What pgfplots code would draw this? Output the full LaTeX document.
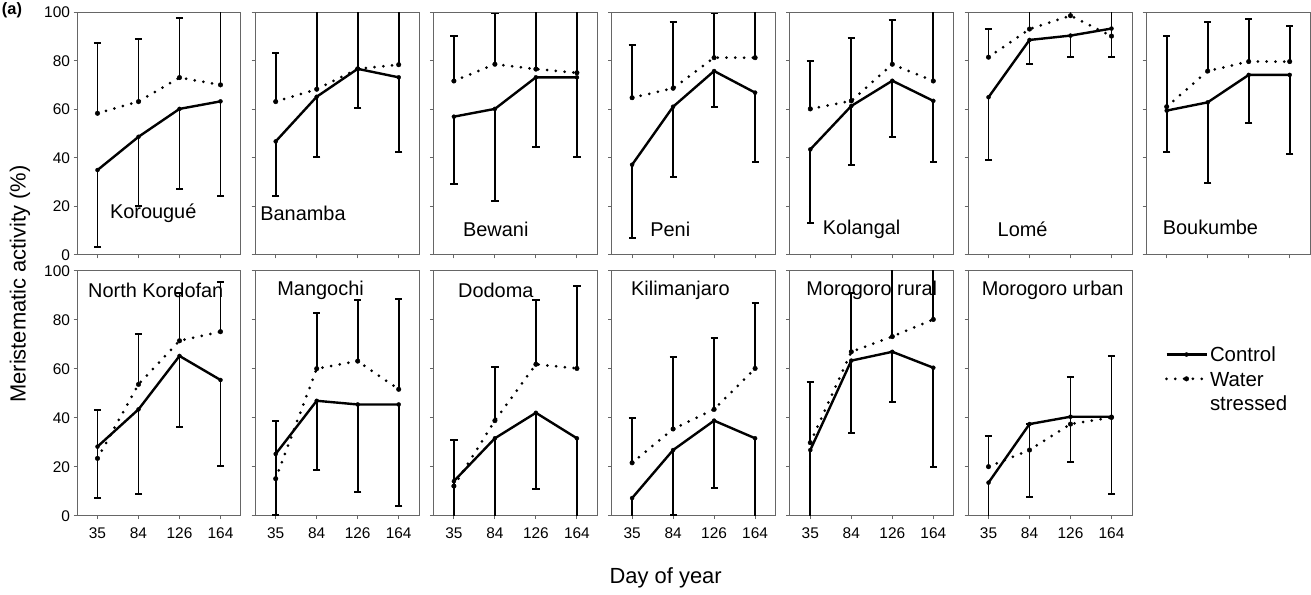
\documentclass[border=0pt]{standalone}
\usepackage{pgfplots}
\pgfplotsset{compat=1.18}
\usepackage{pgfplotstable}
\usepackage{fontspec}
\setmainfont{Liberation Sans}

% columns: x index, control, control lower bar end, water stressed, stressed upper bar end
\pgfplotstableread{
x c clo s shi
0 35.0 3.4 58.4 87.5
1 48.7 20.3 63.2 89.1
2 60.2 27.1 73.1 97.5
3 63.3 24.3 70.1 110
}\tKor
\pgfplotstableread{
x c clo s shi
0 46.8 24.3 63.2 83.1
1 65.2 40.5 68.3 110
2 76.7 60.4 76.7 110
3 73.2 42.3 78.4 110
}\tBan
\pgfplotstableread{
x c clo s shi
0 57.0 29.1 71.7 90.2
1 60.2 22.3 78.6 99.5
2 73.2 44.6 76.6 110
3 73.2 40.5 75.1 110
}\tBew
\pgfplotstableread{
x c clo s shi
0 37.2 6.9 64.8 86.5
1 61.1 32.3 68.7 96.0
2 75.8 60.9 81.3 99.5
3 66.9 38.5 81.3 110
}\tPen
\pgfplotstableread{
x c clo s shi
0 43.5 13.3 60.2 79.9
1 61.4 37.1 63.5 89.3
2 71.8 48.6 78.6 96.8
3 63.5 38.2 71.7 110
}\tKol
\pgfplotstableread{
x c clo s shi
0 65.0 39.1 81.5 93.1
1 88.6 78.6 93.1 110
2 90.4 81.5 98.6 110
3 93.3 81.5 90.2 110
}\tLom
\pgfplotstableread{
x c clo s shi
0 59.5 42.6 61.1 90.2
1 62.9 29.8 75.8 96.0
2 74.2 54.5 79.7 97.3
3 74.2 41.5 79.7 94.5
}\tBou
\pgfplotstableread{
x c clo s shi
0 28.2 7.3 23.4 43.0
1 43.4 8.8 53.6 74.0
2 65.2 36.3 71.4 91.0
3 55.4 20.3 75.1 95.5
}\tNko
\pgfplotstableread{
x c clo s shi
0 25.2 0.3 15.1 38.6
1 46.9 18.5 60.0 82.7
2 45.4 9.8 63.1 88.2
3 45.4 3.9 51.6 88.4
}\tMan
\pgfplotstableread{
x c clo s shi
0 14.1 -10 12.1 30.9
1 31.6 -10 38.8 60.8
2 42.0 11.0 61.8 88.2
3 31.6 -10 60.1 93.7
}\tDod
\pgfplotstableread{
x c clo s shi
0 7.2 -10 21.6 40.0
1 26.8 0.3 35.4 64.6
2 38.8 11.3 43.4 72.5
3 31.6 -10 60.1 86.7
}\tKil
\pgfplotstableread{
x c clo s shi
0 26.8 -10 29.8 54.4
1 63.3 33.9 66.9 91.0
2 66.9 46.3 73.1 110
3 60.4 20.0 80.1 110
}\tMru
\pgfplotstableread{
x c clo s shi
0 13.5 -10 20.0 32.5
1 37.4 7.5 26.8 37.4
2 40.4 22.0 37.4 56.5
3 40.4 8.8 40.1 65.3
}\tMur

\newcommand\lbl{\fontsize{20}{22}\selectfont}

\pgfplotsset{
  panel/.style={
    scale only axis, width=164bp, anchor=south west,
    xmin=-0.5, xmax=3.5, ymin=0, ymax=100,
    xtick={0,1,2,3}, ytick={0,20,40,60,80,100},
    axis line style={black!60, line width=1bp},
    tick style={black!60, line width=1bp},
    tick align=outside, tick pos=left, major tick length=3.5bp,
    /pgf/number format/assume math mode=true,
    tick label style={font=\fontsize{15.5}{18}\selectfont, black},
    xticklabel style={yshift=-5bp},
    xticklabels={,,,}, yticklabels={,,,,,},
  },
  toprow/.style={height=242.7bp},
  botrow/.style={height=245bp},
  labx/.style={xticklabels={35,84,126,164}},
  laby/.style={yticklabels={0,20,40,60,80,100}},
  ctrl/.style={black, line width=2.4bp, mark=*, mark size=2bp,
    mark options={solid, line width=0.4bp},
    error bars/y dir=minus, error bars/y explicit,
    error bars/error bar style={line width=1.9bp, solid, line cap=butt},
    error bars/error mark options={rotate=90, mark size=3.6bp, line width=1.9bp, solid}},
  strs/.style={black, line width=3bp, dash pattern=on 0bp off 8.8bp, line cap=round,
    mark=*, mark size=2.3bp, mark options={solid, line width=0.4bp},
    error bars/y dir=plus, error bars/y explicit,
    error bars/error bar style={line width=1.9bp, solid, line cap=butt},
    error bars/error mark options={rotate=90, mark size=3.6bp, line width=1.9bp, solid}},
}

\newcommand\twoplots[1]{%
  \addplot[ctrl] table[x=x, y=c, y error minus expr=\thisrow{c}-\thisrow{clo}] {#1};
  \addplot[strs] table[x=x, y=s, y error plus expr=\thisrow{shi}-\thisrow{s}] {#1};
}

\begin{document}
\begin{tikzpicture}[x=1bp, y=1bp]
\useasboundingbox (0bp,0bp) rectangle (1311bp,595bp);

% ---------- top row ----------
\begin{axis}[panel, toprow, laby, at={(77bp,340bp)}]
\twoplots{\tKor}
\node[anchor=west, inner sep=0pt, font=\lbl] at (rel axis cs:0.20,0.173) {Korougué};
\end{axis}
\begin{axis}[panel, toprow, at={(255.2bp,340bp)}]
\twoplots{\tBan}
\node[anchor=west, inner sep=0pt, font=\lbl] at (rel axis cs:0.03,0.173) {Banamba};
\end{axis}
\begin{axis}[panel, toprow, at={(433.4bp,340bp)}]
\twoplots{\tBew}
\node[anchor=west, inner sep=0pt, font=\lbl] at (rel axis cs:0.18,0.107) {Bewani};
\end{axis}
\begin{axis}[panel, toprow, at={(611.6bp,340bp)}]
\twoplots{\tPen}
\node[anchor=west, inner sep=0pt, font=\lbl] at (rel axis cs:0.235,0.107) {Peni};
\end{axis}
\begin{axis}[panel, toprow, at={(789.8bp,340bp)}]
\twoplots{\tKol}
\node[anchor=west, inner sep=0pt, font=\lbl] at (rel axis cs:0.20,0.107) {Kolangal};
\end{axis}
\begin{axis}[panel, toprow, at={(968bp,340bp)}]
\twoplots{\tLom}
\node[anchor=west, inner sep=0pt, font=\lbl] at (rel axis cs:0.18,0.107) {Lomé};
\end{axis}
\begin{axis}[panel, toprow, at={(1146.2bp,340bp)}]
\twoplots{\tBou}
\node[anchor=west, inner sep=0pt, font=\lbl] at (rel axis cs:0.10,0.115) {Boukumbe};
\end{axis}

% ---------- bottom row ----------
\begin{axis}[panel, botrow, laby, labx, at={(77bp,79.3bp)}]
\twoplots{\tNko}
\node[anchor=west, inner sep=0pt, font=\lbl] at (rel axis cs:0.067,0.918) {North Kordofan};
\end{axis}
\begin{axis}[panel, botrow, labx, at={(255.2bp,79.3bp)}]
\twoplots{\tMan}
\node[anchor=west, inner sep=0pt, font=\lbl] at (rel axis cs:0.134,0.918) {Mangochi};
\end{axis}
\begin{axis}[panel, botrow, labx, at={(433.4bp,79.3bp)}]
\twoplots{\tDod}
\node[anchor=west, inner sep=0pt, font=\lbl] at (rel axis cs:0.15,0.918) {Dodoma};
\end{axis}
\begin{axis}[panel, botrow, labx, at={(611.6bp,79.3bp)}]
\twoplots{\tKil}
\node[anchor=west, inner sep=0pt, font=\lbl] at (rel axis cs:0.118,0.918) {Kilimanjaro};
\end{axis}
\begin{axis}[panel, botrow, labx, at={(789.8bp,79.3bp)}]
\twoplots{\tMru}
\node[anchor=west, inner sep=0pt, font=\lbl] at (rel axis cs:0.10,0.918) {Morogoro rural};
\end{axis}
\begin{axis}[panel, botrow, labx, at={(968bp,79.3bp)},
  legend style={at={(rel axis cs:1.20,0.70)}, anchor=north west, draw=none, fill=none,
    font=\fontsize{20.5}{23}\selectfont, inner sep=0pt, row sep=3bp},
  legend cell align=left,
  legend image code/.code={\draw[mark repeat=2, mark phase=2, #1] plot coordinates {(0bp,0bp) (20bp,0bp) (40bp,0bp)};}]
\twoplots{\tMur}
\addlegendentry{Control}
\addlegendentry{\renewcommand\arraystretch{1.05}\begin{tabular}[t]{@{}l@{}}Water\\stressed\end{tabular}}
\node[anchor=west, inner sep=0pt, font=\lbl] at (rel axis cs:0.083,0.918) {Morogoro urban};
\end{axis}

% ---------- figure labels ----------
\node[rotate=90, font=\fontsize{22}{24}\selectfont] at (20bp,311bp) {Meristematic activity (\%)};
\node[font=\fontsize{22}{24}\selectfont] at (665.7bp,17bp) {Day of year};
\node[font=\bfseries\fontsize{16.5}{18}\selectfont] at (12bp,585bp) {(a)};
\end{tikzpicture}
\end{document}
